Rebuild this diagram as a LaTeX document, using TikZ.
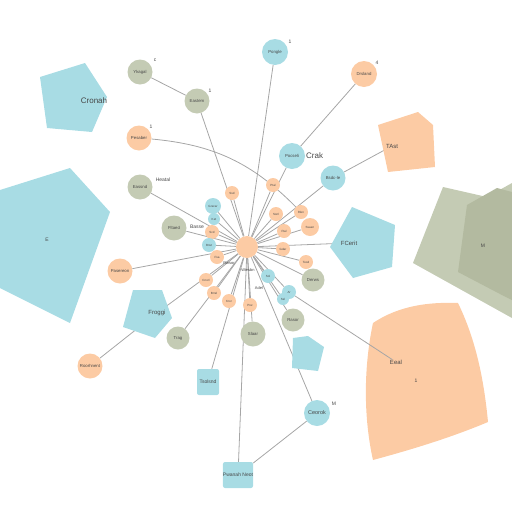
\documentclass[tikz,border=0pt]{standalone}
\usepackage{fontspec}
\setmainfont{Liberation Sans}
\usetikzlibrary{shapes.geometric}
\definecolor{bluefill}{HTML}{A8DCE4}
\definecolor{orangefill}{HTML}{FCCBA4}
\definecolor{greenfill}{HTML}{C4CBB4}
\definecolor{greendark}{HTML}{B3BAA0}
\definecolor{linkgray}{HTML}{A6A6A6}
\definecolor{labelgray}{HTML}{474747}
\pgfdeclarelayer{bg}
\pgfsetlayers{bg,main}
\begin{document}
\begin{tikzpicture}[x=1pt,y=-1pt,
  dot/.style={circle, inner sep=0pt, minimum size=25pt, text=labelgray, font=\fontsize{4.3}{4.5}\selectfont},
  bnode/.style={dot, fill=bluefill},
  onode/.style={dot, fill=orangefill},
  gnode/.style={dot, fill=greenfill},
  inner/.style={minimum size=14pt, font=\fontsize{3}{3}\selectfont},
  boxnode/.style={rectangle, rounded corners=2pt, fill=bluefill, minimum width=22pt, minimum height=26pt, inner sep=0pt, text=labelgray, font=\fontsize{5}{5}\selectfont},
  tag/.style={text=labelgray, inner sep=0pt, font=\fontsize{5}{5}\selectfont},
  bigtag/.style={text=labelgray, inner sep=0pt, font=\fontsize{8}{9}\selectfont},
  link/.style={draw=linkgray, line width=0.8pt}]
\useasboundingbox (0,0) rectangle (512,512);

% large shapes
\fill[bluefill] (40,77) -- (85,63) -- (107,97) -- (92,132) -- (47,128) -- cycle;
\node[bigtag] (24) at (94,101) {Cronah};
\fill[bluefill] (0,190) -- (70,168) -- (110,212) -- (70,323) -- (0,288) -- cycle;
\node[tag] (25) at (47,240) {E};
\fill[orangefill] (378,125) -- (418,112) -- (433,125) -- (435,167) -- (388,172) -- cycle;
\node[tag, font=\fontsize{6}{6}\selectfont] (22) at (392,146) {TAst};
\fill[bluefill] (352,207) -- (395,225) -- (392,267) -- (353,278) -- (330,247) -- cycle;
\node[tag, font=\fontsize{6}{6}\selectfont] (23) at (349,243) {FCerit};
\fill[bluefill] (133,290) -- (162,290) -- (172,318) -- (155,338) -- (123,327) -- cycle;
\node[tag, font=\fontsize{6}{6}\selectfont] (7) at (157,313) {Froggi};
\fill[bluefill] (293,338) -- (308,336) -- (324,347) -- (318,371) -- (292,368) -- cycle;
\coordinate (13) at (308,352);
\fill[greenfill] (443,187) -- (487,197) -- (512,183) -- (512,318) -- (413,263) -- cycle;
\fill[greendark] (467,205) -- (497,188) -- (512,192) -- (512,300) -- (500,294) -- (458,272) -- cycle;
\node[tag] (26) at (483,246) {M};
\fill[orangefill] (373,323) .. controls (400,305) and (430,302) .. (458,303)
  .. controls (476,340) and (484,380) .. (488,422)
  .. controls (450,438) and (410,450) .. (373,460)
  .. controls (364,420) and (363,370) .. (373,323) -- cycle;
\node[tag, font=\fontsize{6}{6}\selectfont] (17) at (396,362) {Eeal};
\node[tag] at (416,381) {1};

% hub and outer nodes
\node[onode, minimum size=22pt] (0) at (247,247) {};
\node[gnode] (1) at (140,72) {Ykagal};
\node[tag] at (155,60) {c};
\node[gnode] (2) at (197,101) {Eastem};
\node[tag] at (210,91) {1};
\node[onode] (3) at (139,138) {Pesaber};
\node[tag] at (151,127) {1};
\node[gnode] (4) at (140,187) {Eassnd};
\node[tag] at (163,180) {Heatal};
\node[gnode] (5) at (174,228) {Fltaed};
\node[tag] at (197,227) {Basse};
\node[onode] (6) at (120,271) {Pasereon};
\node[onode] (8) at (90,366) {Roorhnent};
\node[gnode, minimum size=23pt] (9) at (178,338) {Trag};
\node[boxnode] (10) at (208,382) {Tsolsnd};
\node[boxnode] (11) at (238,475) {Pwanah Neot};
\node[bnode, minimum size=26pt, font=\fontsize{5.5}{5.5}\selectfont] (12) at (317,413) {Ceorok};
\node[tag] at (334,404) {M};
\node[gnode] (14) at (253,334) {Slaar};
\node[gnode, minimum size=23pt] (15) at (293,320) {Rasor};
\node[gnode, minimum size=23pt] (16) at (313,280) {Derws};
\node[bnode, minimum size=26pt] (18) at (275,52) {Pongle};
\node[tag] at (290,42) {1};
\node[onode, minimum size=26pt] (19) at (364,74) {Drsland};
\node[tag] at (377,63) {4};
\node[bnode, minimum size=26pt] (20) at (292,156) {Pocseli};
\node[bigtag, anchor=west] at (306,156) {Crak};
\node[bnode] (21) at (333,178) {Bsdc-le};

% inner ring
\node[onode, inner] (31) at (232,193) {Ssd};
\node[onode, inner] (32) at (273,185) {Ptal};
\node[bnode, inner, minimum size=16pt] (33) at (213,206) {Grecar};
\node[bnode, inner, minimum size=12pt] (34) at (214,219) {Ket};
\node[onode, inner] (35) at (301,212) {Rlen};
\node[onode, inner] (36) at (276,214) {Ssnl};
\node[onode, inner, minimum size=18pt] (37) at (310,227) {Ssaen};
\node[onode, inner] (38) at (284,231) {Ftal};
\node[onode, inner] (39) at (212,232) {Scd};
\node[bnode, inner] (40) at (209,245) {Bnst};
\node[onode, inner] (41) at (283,249) {Gdar};
\node[onode, inner] (42) at (217,257) {Fsa};
\node[onode, inner] (43) at (306,262) {Tesd};
\node[onode, inner] (44) at (206,280) {Cnorl};
\node[onode, inner] (45) at (214,293) {Brrel};
\node[onode, inner] (46) at (229,301) {Kror};
\node[onode, inner] (47) at (250,305) {Prw};
\node[bnode, inner] (48) at (268,276) {Sol};
\node[bnode, inner] (49) at (289,292) {Ar};
\node[bnode, inner, minimum size=12pt] (50) at (283,299) {Ssl};
\node[tag, font=\fontsize{4}{4}\selectfont] at (229,263) {Rwsor};
\node[tag, font=\fontsize{4}{4}\selectfont] at (248,270) {Wiesbn};
\node[tag, font=\fontsize{4}{4}\selectfont] at (259,288) {Adel};

% connectors
\begin{pgfonlayer}{bg}
\foreach \n in {2,4,5,6,7,9,10,11,12,14,15,16,18,20,21,23}
  \path[link] (0) -- (\n);
\foreach \n in {31,32,...,50}
  \path[link] (0) -- (\n);
\path[link] (1) -- (2);
\path[link] (7) -- (8);
\path[link] (11) -- (12);
\path[link] (19) -- (20);
\path[link] (21) -- (22);
\path[link] (3) to[bend left=20] (35);
\end{pgfonlayer}
\path[link] (49) -- (17);
\end{tikzpicture}
\end{document}
